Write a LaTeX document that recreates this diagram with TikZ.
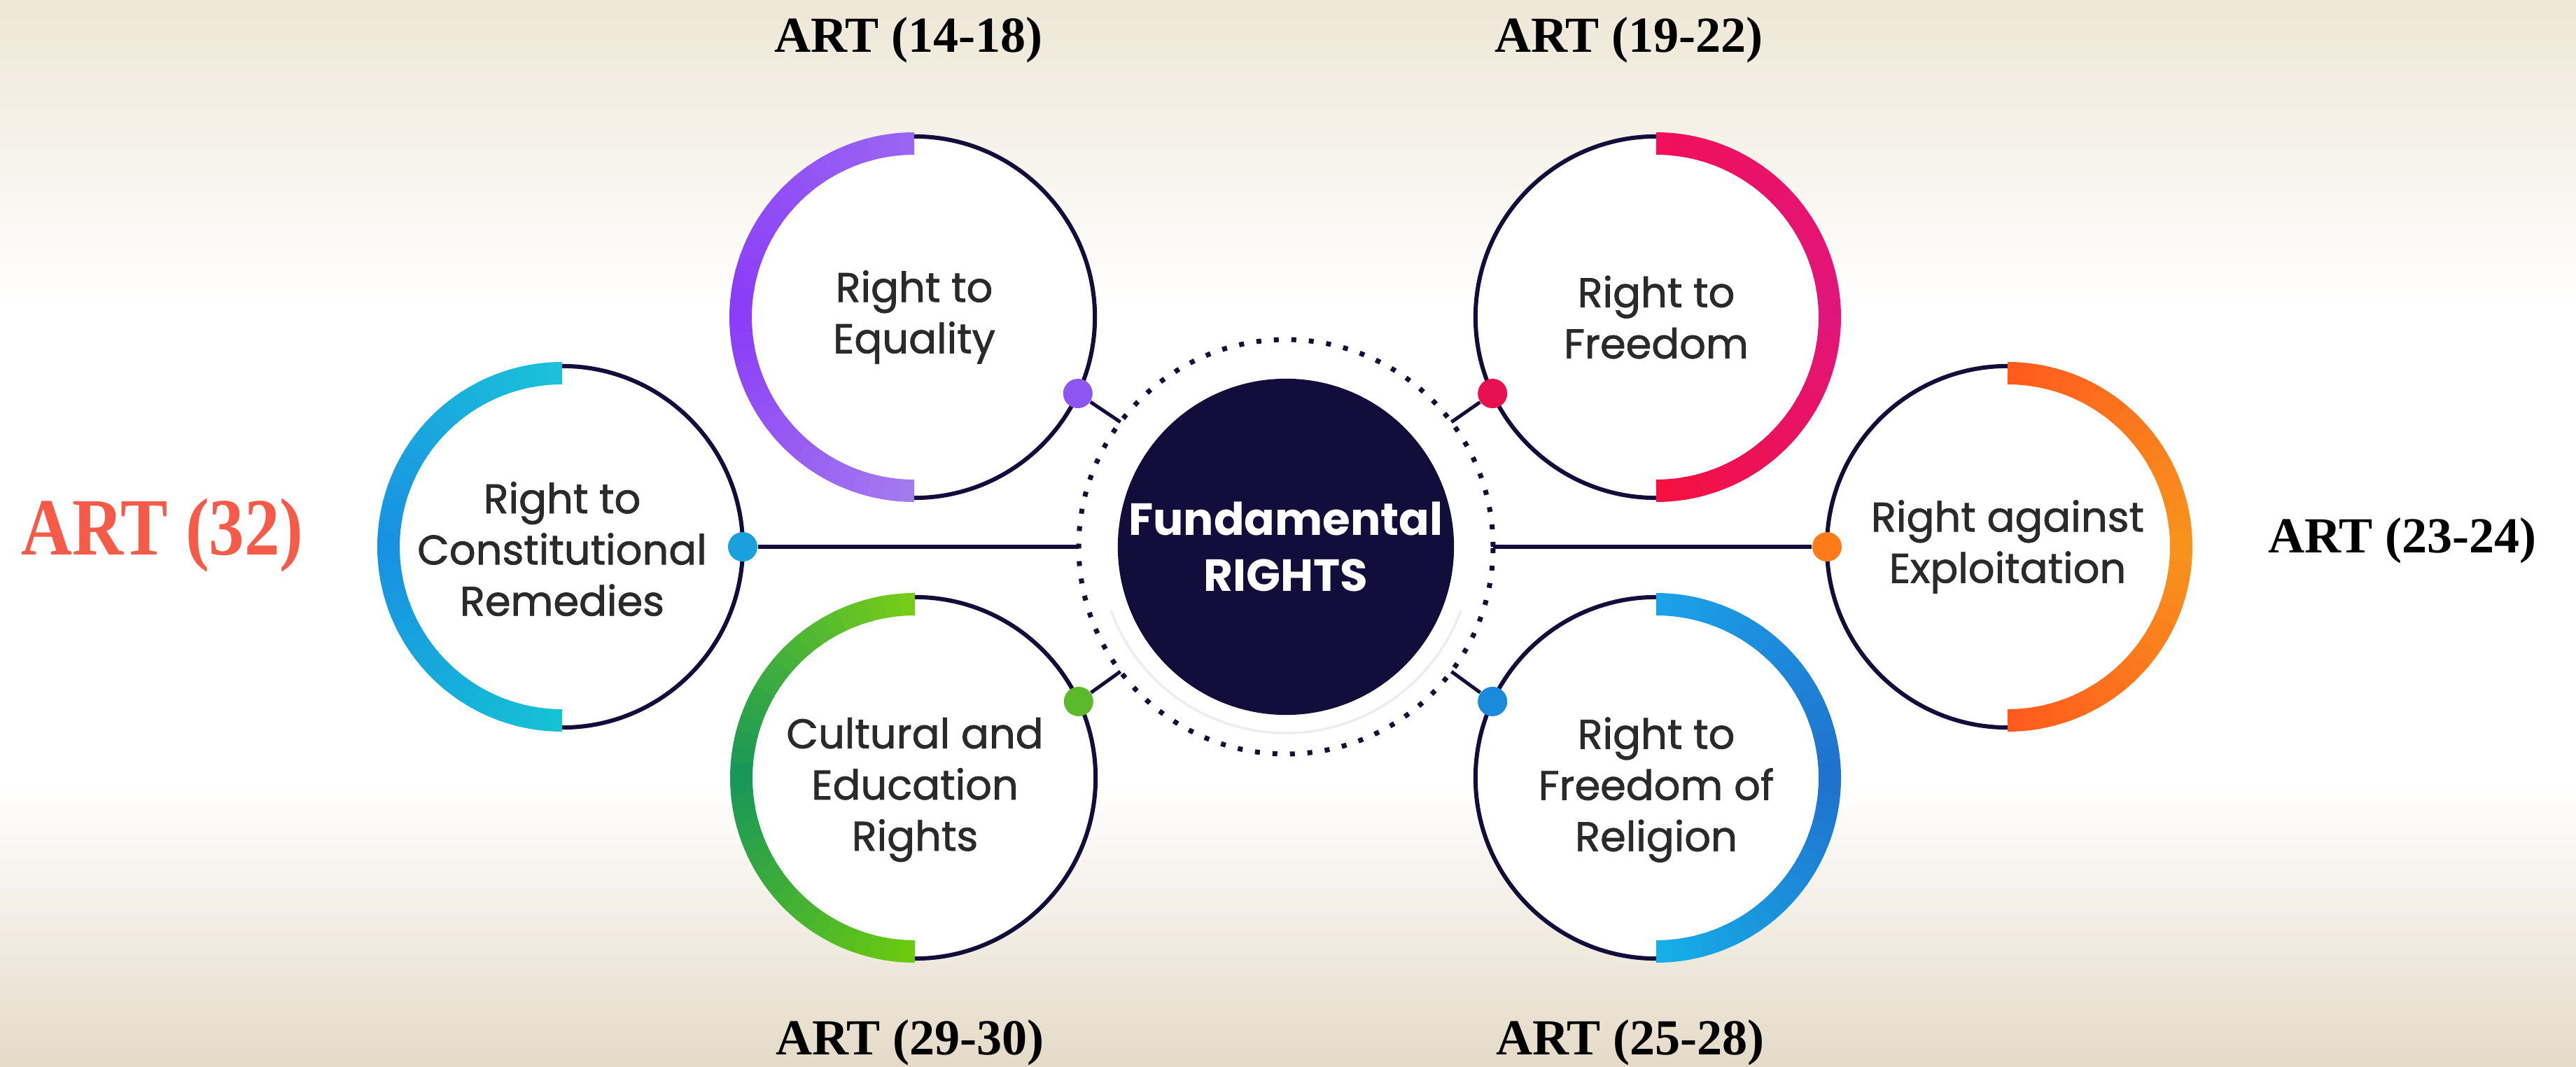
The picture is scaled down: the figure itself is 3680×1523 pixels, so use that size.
\documentclass[tikz,border=0pt]{standalone}
\usepackage{fontspec}
\setmainfont{Liberation Serif}
\newfontfamily\pop{Poppins}
\newfontfamily\popm{Poppins}[FakeBold=1.3]
\usetikzlibrary{calc}
\definecolor{navy}{HTML}{130D3B}
\definecolor{txt}{HTML}{2A2A2A}
\definecolor{beigeT}{HTML}{EEE7D6}
\definecolor{beigeB}{HTML}{E5DAC7}
\definecolor{artred}{HTML}{F55B48}
% arc colours
\definecolor{eqA}{HTML}{9A66F2}\definecolor{eqB}{HTML}{8A3BF7}\definecolor{eqC}{HTML}{A37BEF}
\definecolor{rmA}{HTML}{1BC3D9}\definecolor{rmB}{HTML}{1890E2}\definecolor{rmC}{HTML}{15C3D4}
\definecolor{cuA}{HTML}{79CF15}\definecolor{cuB}{HTML}{17965A}\definecolor{cuC}{HTML}{6CCB0E}
\definecolor{frA}{HTML}{F0105A}\definecolor{frB}{HTML}{E0157D}\definecolor{frC}{HTML}{F5103F}
\definecolor{exA}{HTML}{FF5A1C}\definecolor{exB}{HTML}{F7941D}\definecolor{exC}{HTML}{FF5A1C}
\definecolor{rlA}{HTML}{1AA3E8}\definecolor{rlB}{HTML}{2070CC}\definecolor{rlC}{HTML}{15AFE8}
% knob colours
\definecolor{eqK}{HTML}{8E55F0}\definecolor{frK}{HTML}{E8104F}\definecolor{rmK}{HTML}{1AA0DC}
\definecolor{exK}{HTML}{FF7A1A}\definecolor{cuK}{HTML}{5CBA2A}\definecolor{rlK}{HTML}{1A8ADC}

\tikzset{
  ring/.style={circle, draw=navy, fill=white, line width=0.06cm, minimum size=5.16cm, inner sep=0pt},
  ringtext/.style={inner sep=0pt, align=center, text=txt, font=\popm\fontsize{16.8}{20.8}\selectfont},
  thickarc/.style={line width=0.32cm, line cap=butt},
  knob/.style={circle, inner sep=0pt, minimum size=0.42cm},
  link/.style={draw=navy, line width=0.05cm},
  artlbl/.style={font=\bfseries\fontsize{20.5}{24}\selectfont, anchor=base, inner sep=0pt},
  hub/.style={circle, fill=navy, minimum size=4.8cm, inner sep=0pt, text=white, align=center,
    font=\pop\bfseries\fontsize{18.3}{22.8}\selectfont},
  dotring/.style={draw=navy, line width=0.07cm, dash pattern=on 0.07cm off 0.18cm},
}

% #1 node name, #2 direction (1 = left half, -1 = right half), #3 top, #4 middle, #5 bottom colour
\newcommand\gradarc[5]{%
  \foreach \k in {0,...,17}{%
    \pgfmathtruncatemacro\pa{100-(\k+0.5)*100/18}%
    \pgfmathsetmacro\aa{90+#2*\k*5}%
    \pgfmathsetmacro\ab{90+#2*(\k*5+5.5)}%
    \draw[thickarc, draw=#3!\pa!#4, shift={(#1.center)}] (\aa:248) arc[start angle=\aa, end angle=\ab, radius=248];
  }%
  \foreach \k in {18,...,35}{%
    \pgfmathtruncatemacro\pa{100-(\k-18+0.5)*100/18}%
    \pgfmathsetmacro\aa{90+#2*\k*5}%
    \pgfmathsetmacro\ab{90+#2*min(\k*5+5.5,180)}%
    \draw[thickarc, draw=#4!\pa!#5, shift={(#1.center)}] (\aa:248) arc[start angle=\aa, end angle=\ab, radius=248];
  }%
}

\begin{document}
\begin{tikzpicture}[x=0.01cm, y=0.01cm]
\useasboundingbox (0,0) rectangle (3680,1523);
% background
\fill[white] (0,0) rectangle (3680,1523);
\shade[top color=beigeT, bottom color=white] (0,1080) rectangle (3680,1523);
\shade[top color=white, bottom color=beigeB] (0,0) rectangle (3680,400);

% hub and rings
\node[hub] (c) at (1837,742) {Fundamental\\RIGHTS};
\node[ring] (eq) at (1306,1070) {};
\node[ring] (fr) at (2366,1070) {};
\node[ring] (rm) at (803,742) {};
\node[ring] (ex) at (2868,742) {};
\node[ring] (cu) at (1307,412) {};
\node[ring] (rl) at (2366,412) {};

\gradarc{eq}{1}{eqA}{eqB}{eqC}
\gradarc{rm}{1}{rmA}{rmB}{rmC}
\gradarc{cu}{1}{cuA}{cuB}{cuC}
\gradarc{fr}{-1}{frA}{frB}{frC}
\gradarc{ex}{-1}{exA}{exB}{exC}
\gradarc{rl}{-1}{rlA}{rlB}{rlC}

% ring texts
\node[ringtext] (eqt) at (eq.center) {Right to\\Equality};
\node[ringtext] (frt) at (fr.center) {Right to\\Freedom};
\node[ringtext] (rmt) at ([yshift=-0.03cm]rm.center) {Right to\\Constitutional\\Remedies};
\node[ringtext] (ext) at (ex.center) {Right against\\Exploitation};
\node[ringtext] (cut) at ([yshift=-0.17cm]cu.center) {Cultural and\\Education\\Rights};
\node[ringtext] (rlt) at ([yshift=-0.17cm]rl.center) {Right to\\Freedom of\\Religion};

% dotted ring and faint inner ring
\draw[dotring] (c.center) circle[radius=296];
\draw[gray!14, line width=0.035cm, shift={(c.center)}] (200:266) arc[start angle=200, end angle=340, radius=266];

% ring anchor points
\coordinate (ca) at ([shift={(143:296)}]c.center);
\coordinate (cb) at ([shift={(37:296)}]c.center);
\coordinate (cc) at ([shift={(217:296)}]c.center);
\coordinate (cd) at ([shift={(-37:296)}]c.center);
\coordinate (cl) at ([shift={(180:296)}]c.center);
\coordinate (cr) at ([shift={(0:296)}]c.center);

% knobs
\node[knob, fill=eqK] (eqk) at ([shift={(-25:258)}]eq.center) {};
\node[knob, fill=frK] (frk) at ([shift={(205:258)}]fr.center) {};
\node[knob, fill=cuK] (cuk) at ([shift={(25:258)}]cu.center) {};
\node[knob, fill=rlK] (rlk) at ([shift={(155:258)}]rl.center) {};
\node[knob, fill=rmK] (rmk) at ([shift={(0:258)}]rm.center) {};
\node[knob, fill=exK] (exk) at ([shift={(180:258)}]ex.center) {};

% connectors
\draw[link] (eqk) -- (ca);
\draw[link] (frk) -- (cb);
\draw[link] (cuk) -- (cc);
\draw[link] (rlk) -- (cd);
\draw[link] (rmk) -- (cl);
\draw[link] (exk) -- (cr);

% article labels
\node[artlbl] (a1) at (1298,1448) {ART (14-18)};
\node[artlbl] (a2) at (2327,1448) {ART (19-22)};
\node[artlbl] (a3) at (3432,733) {ART (23-24)};
\node[artlbl] (a4) at (2329,17) {ART (25-28)};
\node[artlbl] (a5) at (1300,17) {ART (29-30)};
\node[anchor=base, inner sep=0pt, text=artred, font=\bfseries\fontsize{33}{38}\selectfont] (a6) at (232,731) {\scalebox{0.87}[1]{ART (32)}};
\end{tikzpicture}
\end{document}
